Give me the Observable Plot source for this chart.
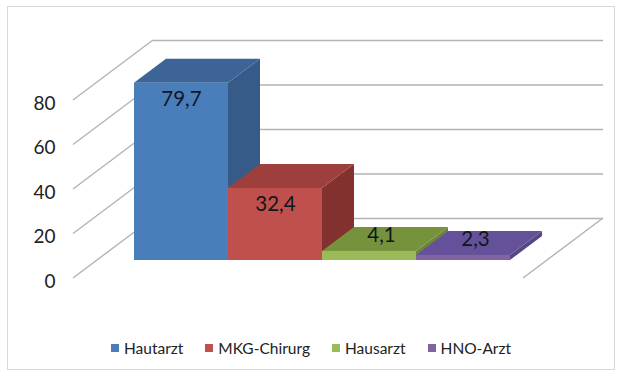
<!DOCTYPE html>
<html><head><meta charset="utf-8">
<script src="https://cdn.jsdelivr.net/npm/d3@7"></script>
<script src="https://cdn.jsdelivr.net/npm/@observablehq/plot@0.6"></script>
<style>
body{margin:0;background:#fff;width:622px;height:381px;position:relative;overflow:hidden;font-family:Lato,sans-serif}
#frame{position:absolute;left:7px;top:6px;width:608px;height:364px;border:1px solid #d9d9d9;box-sizing:border-box}
#chart{position:absolute;left:0;top:0}
#legend{position:absolute;top:338px;left:0;width:622px;display:flex;justify-content:center;gap:22px;font-size:15.5px;color:#222;line-height:20px}
.item{display:flex;align-items:center;gap:5px}
.sw{width:8px;height:8px;display:inline-block}
</style></head><body>
<div id="frame"></div><div id="chart"></div><div id="legend"></div>
<script>
const categories = ["Hautarzt", "MKG-Chirurg", "Hausarzt", "HNO-Arzt"];
const values = [79.7, 32.4, 4.1, 2.3];
const valueLabels = ["79,7", "32,4", "4,1", "2,3"];
const yTicks = [0, 20, 40, 60, 80];
const frontColors = ["#4a7ebb", "#c0504d", "#9bbb59", "#8064a2"];
const topColors = ["#3d6497", "#9d403d", "#76923c", "#65519a"];
const sideColors = ["#375b88", "#82312f", "#6b8636", "#574585"];

const data = categories.map((c, i) => ({c, v: values[i], label: valueLabels[i], i}));

// depth projection: full depth = (80px, -60px)
const DX = 80, DY = -60, dFront = 0.3, dBack = 0.7;

function walls(index, {x, y}, values, {width, marginLeft, marginRight}) {
  const g = d3.create("svg:g").attr("stroke", "#b3b3b3").attr("stroke-width", 1.4).attr("fill", "none");
  for (const t of yTicks) {
    g.append("line").attr("x1", marginLeft).attr("y1", y(t))
      .attr("x2", marginLeft + DX).attr("y2", y(t) + DY);
  }
  const xr = width - marginRight;
  g.append("line").attr("x1", xr).attr("y1", y(0)).attr("x2", xr + DX).attr("y2", y(0) + DY);
  return g.node();
}

function cubes(index, {x, y}) {
  const g = d3.create("svg:g");
  const bw = x.bandwidth ? x.bandwidth() : (x(categories[1]) - x(categories[0]));
  const fx = DX * dFront, fy = DY * dFront, bx = DX * dBack, by = DY * dBack;
  data.forEach(d => {
    const x0 = x(d.c), x1 = x0 + bw, y0 = y(0), y1 = y(d.v);
    const side = [[x1 + fx, y1 + fy], [x1 + bx, y1 + by], [x1 + bx, y0 + by], [x1 + fx, y0 + fy]];
    const top = [[x0 + fx, y1 + fy], [x1 + fx, y1 + fy], [x1 + bx, y1 + by], [x0 + bx, y1 + by]];
    g.append("polygon").attr("points", side.join(" ")).attr("fill", sideColors[d.i]);
    g.append("polygon").attr("points", top.join(" ")).attr("fill", topColors[d.i]);
  });
  return g.node();
}

const chart = Plot.plot({
  width: 622,
  height: 320,
  marginTop: 100,
  marginBottom: 42,
  marginLeft: 73,
  marginRight: 99,
  style: {background: "transparent", fontFamily: "Lato, sans-serif", color: "#222"},
  x: {domain: categories, paddingInner: 0, paddingOuter: 0.375, axis: null, label: null},
  y: {domain: [0, 80], axis: null, label: null},
  marks: [
    Plot.ruleY(yTicks, {dx: DX, dy: DY, stroke: "#b3b3b3", strokeWidth: 1.4, strokeOpacity: 1}),
    walls,
    Plot.axisY(yTicks, {tickSize: 0, tickPadding: 18, fontSize: 19, dy: 3, label: null, tickFormat: d => String(d)}),
    cubes,
    Plot.barY(data, {x: "c", y: "v", fill: (d) => frontColors[d.i], dx: DX * dFront, dy: DY * dFront}),
    Plot.text(data.filter(d => d.v > 10), {x: "c", y: "v", text: "label", dx: 24, dy: 16 + DY * dFront, fontSize: 20.5, fill: "#10161f"}),
    Plot.text(data.filter(d => d.v <= 10), {x: "c", y: "v", text: "label", dx: 36, dy: -34, fontSize: 20.5, fill: "#10161f"})
  ]
});
document.getElementById("chart").appendChild(chart);

const legend = document.getElementById("legend");
categories.forEach((c, i) => {
  const item = document.createElement("div");
  item.className = "item";
  const sw = document.createElement("span");
  sw.className = "sw";
  sw.style.background = frontColors[i];
  const t = document.createElement("span");
  t.textContent = c;
  item.appendChild(sw); item.appendChild(t);
  legend.appendChild(item);
});
</script>
</body></html>
